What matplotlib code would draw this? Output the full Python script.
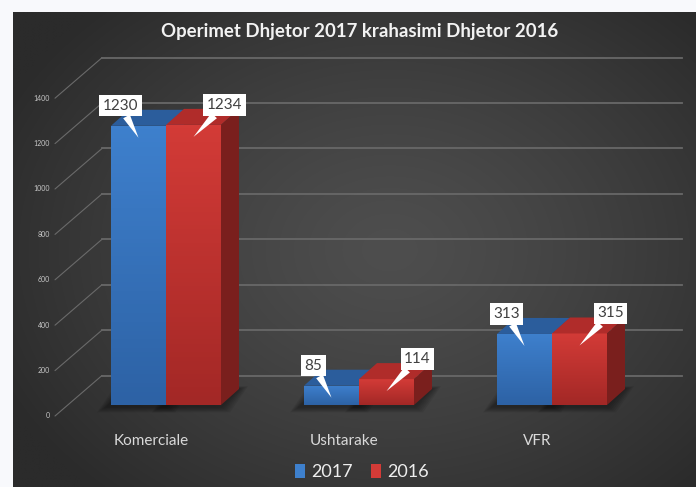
import numpy as np
import matplotlib
matplotlib.use("Agg")
import matplotlib.pyplot as plt
from matplotlib.patches import Polygon, Patch
from matplotlib.colors import LinearSegmentedColormap, to_rgb

# ---------------- data ----------------
categories = ["Komerciale", "Ushtarake", "VFR"]
series_names = ["2017", "2016"]
values_2017 = [1230, 85, 313]
values_2016 = [1234, 114, 315]
y_ticks = [0, 200, 400, 600, 800, 1000, 1200, 1400]
title = "Operimet Dhjetor 2017 krahasimi Dhjetor 2016"

plt.rcParams['font.family'] = ['Lato', 'DejaVu Sans']

W, H = 696, 487
fig = plt.figure(figsize=(W / 100, H / 100), dpi=100, facecolor="#f8f9fc")

# ---------------- layout calibration (pixels) ----------------
PX0, PY0, PX1, PY1 = 13, 12, 696, 487      # dark panel
X_ORIGIN, X_STEP = 166, 193                 # first category centre / spacing
Y_ZERO, Y_SCALE = 405, 0.227                # baseline px / px per unit
BAR_W_PX = 55
DEPTH = (18, 16)                            # bar depth offset (right, up)
AXIS_FRONT_DOWN = 11                        # axis front plane below bar front
WALL_UP = 29.5                              # back wall above bar front
DIAG_X0, DIAG_X1, GRID_X1 = 55, 102, 682

ax = fig.add_axes([PX0 / W, 1 - PY1 / H, (PX1 - PX0) / W, (PY1 - PY0) / H])
xlim = ((PX0 - X_ORIGIN) / X_STEP, (PX1 - X_ORIGIN) / X_STEP)
ylim = ((Y_ZERO - PY1) / Y_SCALE, (Y_ZERO - PY0) / Y_SCALE)
ax.set_xlim(*xlim)
ax.set_ylim(*ylim)
ax.axis('off')


def dx(p):
    return p / X_STEP


def dv(p):
    return p / Y_SCALE


def px_x(p):
    return (p - X_ORIGIN) / X_STEP


def px_y(p):
    return (Y_ZERO - p) / Y_SCALE


# ---------------- background gradient ----------------
gy, gx = np.mgrid[0:240, 0:340]
gxp = PX0 + gx / 339 * (PX1 - PX0)
gyp = PY0 + gy / 239 * (PY1 - PY0)
r = np.sqrt(((gxp - 390) / 430) ** 2 + ((gyp - 250) / 330) ** 2)
r = np.clip(r, 0, 1) ** 1.3
c_in = np.array(to_rgb("#4e4e4e"))
c_out = np.array(to_rgb("#2b2b2b"))
bg = c_in[None, None, :] * (1 - r[..., None]) + c_out[None, None, :] * r[..., None]
ax.imshow(bg, extent=(xlim[0], xlim[1], ylim[0], ylim[1]), origin='upper',
          aspect='auto', zorder=0, interpolation='bilinear')

# ---------------- gridlines (3-D style) ----------------
for t in y_ticks:
    y_front = t - dv(AXIS_FRONT_DOWN)
    y_back = t + dv(WALL_UP)
    ax.plot([px_x(DIAG_X0), px_x(DIAG_X1)], [y_front, y_back],
            color="#6a6a6a", lw=0.8, zorder=1, solid_capstyle='round')
    ax.plot([px_x(DIAG_X1), px_x(GRID_X1)], [y_back, y_back],
            color="#686868", lw=1.3, zorder=1)
    ax.text(px_x(DIAG_X0 - 5), y_front, str(t), ha='right', va='center',
            fontsize=5, color="#c8c8c8", zorder=5)

# ---------------- bars ----------------
bw = dx(BAR_W_PX)
ddx, ddv = dx(DEPTH[0]), dv(DEPTH[1])
series = [
    (values_2017, -1, ("#3e80cd", "#2d62a5"), "#2b5d9c", "#234d84", 3.0),
    (values_2016, +1, ("#d33b37", "#a32826"), "#b02c2a", "#7a1f1d", 4.0),
]
x_idx = np.arange(len(categories))

# shadows first
for vals, sgn, _, _, _, _ in series:
    for i in x_idx:
        x0 = i + sgn * bw / 2 - bw / 2
        x1 = x0 + bw
        for k in range(6):
            e = 1.0 + k * 1.6
            poly = [(x0 - dx(5 + e), -dv(2 + e * 0.6)), (x1 + dx(e), -dv(2 + e * 0.6)),
                    (x1 + ddx + dx(e), ddv + dv(e * 0.3)),
                    (x0 + ddx - dx(5 + e), ddv + dv(e * 0.3))]
            ax.add_patch(Polygon(poly, closed=True, fc="black", ec="none",
                                 alpha=0.07, zorder=2))

for vals, sgn, (ctop, cbot), ctopface, cside, z in series:
    cmap = LinearSegmentedColormap.from_list("g", [cbot, ctop])
    bars = ax.bar(x_idx + sgn * bw / 2, vals, width=bw, color=ctop,
                  edgecolor='none', zorder=z)
    grad = np.linspace(1, 0, 64)[:, None]
    for b, v in zip(bars, vals):
        x0, x1 = b.get_x(), b.get_x() + b.get_width()
        im = ax.imshow(grad, cmap=cmap, extent=(x0, x1, 0, v), aspect='auto',
                       origin='upper', zorder=z + 0.1, vmin=0, vmax=1)
        im.set_clip_path(b)
        top = [(x0, v), (x1, v), (x1 + ddx, v + ddv), (x0 + ddx, v + ddv)]
        ax.add_patch(Polygon(top, closed=True, fc=ctopface, ec='none', zorder=z + 0.2))
        side = [(x1, 0), (x1, v), (x1 + ddx, v + ddv), (x1 + ddx, ddv)]
        ax.add_patch(Polygon(side, closed=True, fc=cside, ec='none', zorder=z + 0.2))

# ---------------- data labels (callouts) ----------------
label_dx = {-1: -18, +1: 31}
for vals, sgn, _, _, _, _ in series:
    for i, v in zip(x_idx, vals):
        cx = i + sgn * bw / 2
        ax.annotate(str(v), xy=(cx, v - dv(12)),
                    xytext=(label_dx[sgn], 32), textcoords='offset pixels',
                    ha='center', va='center', fontsize=11, color="#404040",
                    bbox=dict(boxstyle="square,pad=0.24", fc="white", ec="none"),
                    arrowprops=dict(arrowstyle="wedge,tail_width=0.5,shrink_factor=0.5",
                                    fc="white", ec="none", shrinkA=0, shrinkB=0),
                    zorder=10)

# ---------------- category labels ----------------
for i, c in zip(x_idx, categories):
    ax.text(i - dx(15), px_y(441), c, ha='center', va='center',
            fontsize=11, color="#d9d9d9", zorder=5)

# ---------------- legend ----------------
handles = [Patch(fc=series[0][2][0], ec='none'), Patch(fc=series[1][2][0], ec='none')]
leg = fig.legend(handles, series_names, loc='center',
                 bbox_to_anchor=(362 / W, 1 - 472 / H), bbox_transform=fig.transFigure,
                 ncol=2, frameon=False, fontsize=13, handlelength=0.55,
                 handleheight=0.85, handletextpad=0.35, columnspacing=1.0,
                 labelcolor="#eeeeee")

# ---------------- title ----------------
fig.text(360 / W, 1 - 32 / H, title, ha='center', va='center', fontsize=13.4,
         fontweight='bold', color="#f2f2f2")

fig.savefig("out.png", dpi=100, facecolor=fig.get_facecolor())
